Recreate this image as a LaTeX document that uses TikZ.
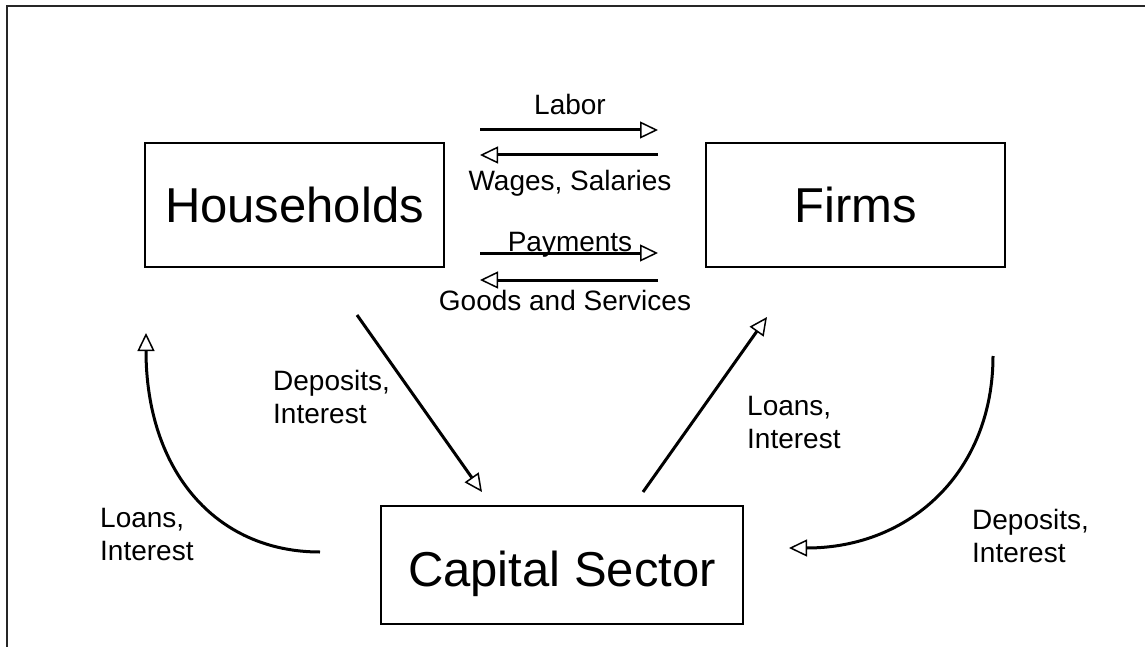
\documentclass[tikz,border=0pt]{standalone}
\usepackage{fontspec}
\setmainfont{Liberation Sans}
\usetikzlibrary{arrows.meta}
\begin{document}
\begin{tikzpicture}[x=1pt,y=-1pt,
  box/.style={draw, line width=1.5pt, inner sep=0pt, minimum width=299pt, minimum height=124pt,
    font=\fontsize{49}{59}\selectfont, text height=35pt, text depth=0pt},
  lbl/.style={inner sep=0pt, font=\fontsize{28}{33}\selectfont, align=left},
  flow/.style={line width=3pt, -{Triangle[open, length=18pt, width=17pt, line width=1.5pt]}},
  frame/.style={line width=2.5pt, draw=black!85}
]
\useasboundingbox (0,0) rectangle (1145,647);
\draw[frame] (7,647) -- (7,6) -- (1145,6);

\node[box] (hh) at (294.5,205) {Households};
\node[box] (firms) at (855.5,205) {Firms};
\node[box, minimum width=362pt, minimum height=118pt, text height=42pt] (cap) at (562,565) {Capital Sector};

% horizontal flows
\coordinate (laborL) at (480,130);  \coordinate (laborR) at (658,130);
\coordinate (wageL) at (480,155);   \coordinate (wageR) at (658,155);
\coordinate (payL) at (480,253);    \coordinate (payR) at (658,253);
\coordinate (goodL) at (480,280);   \coordinate (goodR) at (658,280);
\draw[flow] (laborL) -- (laborR);
\draw[flow] (wageR) -- (wageL);
\draw[flow] (payL) -- (payR);
\draw[flow] (goodR) -- (goodL);
\node[lbl, anchor=base] (tlabor) at (570,115) {Labor};
\node[lbl, anchor=base] (twage) at (570,190) {Wages, Salaries};
\node[lbl, anchor=base] (tpay) at (570,251) {Payments};
\node[lbl, anchor=base] (tgood) at (565,310) {Goods and Services};

% diagonal flows
\coordinate (hhOut) at (357,315);  \coordinate (capIn) at (482,492);
\coordinate (capOut) at (643,492); \coordinate (firmIn) at (767,317);
\draw[flow] (hhOut) -- (capIn);
\draw[flow] (capOut) -- (firmIn);
\node[lbl, anchor=base west] (tdep1) at (273,423) {Deposits,\\Interest};
\node[lbl, anchor=base west] (tloan1) at (747,448) {Loans,\\Interest};

% curved flows
\coordinate (capL) at (320,552); \coordinate (hhIn) at (146,333);
\coordinate (firmOut) at (993,356); \coordinate (capR) at (789,548);
\draw[flow] (capL) .. controls (215,552) and (146,470) .. (hhIn);
\draw[flow] (firmOut) .. controls (993,471) and (911,548) .. (capR);
\node[lbl, anchor=base west] (tloan2) at (100,560) {Loans,\\Interest};
\node[lbl, anchor=base west] (tdep2) at (972,562) {Deposits,\\Interest};
\end{tikzpicture}
\end{document}
